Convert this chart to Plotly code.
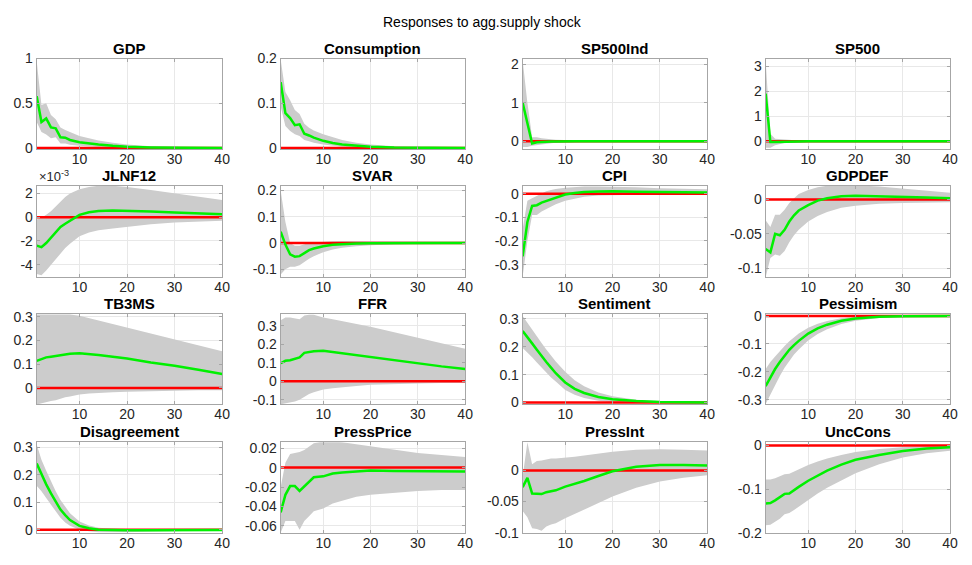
import plotly.graph_objects as go

# ---------------- data ----------------
H = [1, 2, 3, 4, 5, 6, 7, 8, 10, 12, 14, 17, 20, 25, 30, 35, 40]
X_TICKS = [10, 20, 30, 40]
X_TICK_LABELS = ["10", "20", "30", "40"]

names = ["GDP", "Consumption", "SP500Ind", "SP500",
         "JLNF12", "SVAR", "CPI", "GDPDEF",
         "TB3MS", "FFR", "Sentiment", "Pessimism",
         "Disagreement", "PressPrice", "PressInt", "UncCons"]

gdp_mean = [0.58, 0.29, 0.33, 0.23, 0.22, 0.12, 0.115, 0.09, 0.065, 0.05, 0.04, 0.025, 0.015, 0.007, 0.003, 0.001, 0.0]
gdp_hi = [0.97, 0.48, 0.50, 0.37, 0.32, 0.23, 0.20, 0.18, 0.135, 0.11, 0.085, 0.06, 0.04, 0.02, 0.01, 0.005, 0.003]
gdp_lo = [0.29, 0.18, 0.15, 0.11, 0.12, 0.05, 0.05, 0.035, 0.025, 0.015, 0.01, 0.005, 0.0, -0.003, -0.003, -0.002, -0.002]

cons_mean = [0.147, 0.078, 0.067, 0.051, 0.053, 0.032, 0.028, 0.023, 0.016, 0.011, 0.008, 0.005, 0.003, 0.001, 0.0005, 0.0, 0.0]
cons_hi = [0.198, 0.125, 0.107, 0.085, 0.076, 0.054, 0.045, 0.039, 0.031, 0.024, 0.018, 0.012, 0.008, 0.004, 0.002, 0.001, 0.0005]
cons_lo = [0.093, 0.049, 0.038, 0.031, 0.027, 0.018, 0.015, 0.012, 0.008, 0.005, 0.003, 0.001, 0.0, -0.001, -0.001, -0.0005, 0.0]

sp5i_mean = [1.0, 0.47, -0.06, -0.03, -0.02, -0.02, -0.01, -0.01, 0.0, 0.0, 0.0, 0.0, 0.0, 0.0, 0.0, 0.0, 0.0]
sp5i_hi = [2.1, 1.0, 0.1, 0.1, 0.08, 0.06, 0.05, 0.04, 0.03, 0.02, 0.01, 0.005, 0.003, 0.0, 0.0, 0.0, 0.0]
sp5i_lo = [-0.15, -0.15, -0.12, -0.1, -0.08, -0.06, -0.05, -0.04, -0.03, -0.02, -0.01, -0.005, -0.003, 0.0, 0.0, 0.0, 0.0]

sp5_mean = [1.9, -0.03, -0.03, -0.02, -0.02, -0.01, -0.01, -0.005, 0.0, 0.0, 0.0, 0.0, 0.0, 0.0, 0.0, 0.0, 0.0]
sp5_hi = [3.2, 0.3, 0.1, 0.08, 0.07, 0.05, 0.04, 0.03, 0.02, 0.01, 0.005, 0.0, 0.0, 0.0, 0.0, 0.0, 0.0]
sp5_lo = [-0.25, -0.25, -0.15, -0.1, -0.07, -0.05, -0.04, -0.03, -0.02, -0.01, -0.005, 0.0, 0.0, 0.0, 0.0, 0.0, 0.0]

jln_mean = [-2.40e-3, -2.53e-3, -2.18e-3, -1.72e-3, -1.23e-3, -0.82e-3, -0.55e-3, -0.30e-3, 0.20e-3, 0.42e-3, 0.52e-3, 0.57e-3, 0.55e-3, 0.48e-3, 0.40e-3, 0.32e-3, 0.25e-3]
jln_hi = [-0.20e-3, -0.05e-3, 0.20e-3, 0.50e-3, 0.90e-3, 1.30e-3, 1.70e-3, 2.00e-3, 2.35e-3, 2.55e-3, 2.65e-3, 2.65e-3, 2.55e-3, 2.30e-3, 2.00e-3, 1.70e-3, 1.45e-3]
jln_lo = [-4.80e-3, -4.90e-3, -4.50e-3, -4.00e-3, -3.50e-3, -3.00e-3, -2.60e-3, -2.25e-3, -1.60e-3, -1.30e-3, -1.10e-3, -0.95e-3, -0.80e-3, -0.60e-3, -0.45e-3, -0.35e-3, -0.30e-3]

svar_mean = [0.043, -0.006, -0.043, -0.052, -0.05, -0.037, -0.027, -0.021, -0.012, -0.007, -0.004, -0.002, -0.001, 0.0, 0.0, 0.0, 0.0]
svar_hi = [0.2, 0.08, 0.0, -0.01, -0.01, -0.005, 0.0, 0.002, 0.005, 0.007, 0.008, 0.008, 0.008, 0.007, 0.006, 0.005, 0.005]
svar_lo = [-0.12, -0.1, -0.09, -0.09, -0.085, -0.072, -0.06, -0.05, -0.035, -0.025, -0.018, -0.012, -0.008, -0.005, -0.003, -0.002, -0.002]

cpi_mean = [-0.265, -0.12, -0.052, -0.049, -0.038, -0.031, -0.024, -0.018, -0.004, 0.003, 0.007, 0.009, 0.01, 0.008, 0.007, 0.006, 0.005]
cpi_hi = [-0.15, -0.03, -0.02, -0.01, 0.0, 0.01, 0.015, 0.02, 0.025, 0.028, 0.03, 0.03, 0.03, 0.027, 0.023, 0.02, 0.018]
cpi_lo = [-0.35, -0.2, -0.09, -0.09, -0.075, -0.065, -0.055, -0.045, -0.03, -0.02, -0.013, -0.008, -0.006, -0.005, -0.005, -0.005, -0.006]

gdpdef_mean = [-0.072, -0.077, -0.05, -0.052, -0.044, -0.032, -0.023, -0.016, -0.008, -0.0015, 0.002, 0.0047, 0.0056, 0.005, 0.004, 0.003, 0.002]
gdpdef_hi = [-0.03, -0.04, -0.022, -0.022, -0.015, -0.005, 0.002, 0.008, 0.014, 0.018, 0.02, 0.021, 0.021, 0.019, 0.016, 0.013, 0.01]
gdpdef_lo = [-0.113, -0.085, -0.08, -0.082, -0.075, -0.062, -0.052, -0.044, -0.032, -0.024, -0.018, -0.012, -0.009, -0.006, -0.005, -0.004, -0.004]

tb3_mean = [0.114, 0.121, 0.129, 0.132, 0.135, 0.14, 0.142, 0.144, 0.146, 0.143, 0.139, 0.132, 0.124, 0.107, 0.094, 0.077, 0.059]
tb3_hi = [0.31, 0.31, 0.31, 0.31, 0.31, 0.31, 0.31, 0.31, 0.305, 0.295, 0.285, 0.27, 0.255, 0.23, 0.205, 0.18, 0.155]
tb3_lo = [-0.07, -0.065, -0.058, -0.055, -0.052, -0.045, -0.04, -0.036, -0.028, -0.024, -0.021, -0.018, -0.016, -0.013, -0.011, -0.01, -0.01]

ffr_mean = [0.097, 0.11, 0.113, 0.122, 0.129, 0.153, 0.158, 0.162, 0.165, 0.158, 0.151, 0.144, 0.132, 0.115, 0.097, 0.08, 0.066]
ffr_hi = [0.33, 0.345, 0.345, 0.34, 0.335, 0.355, 0.36, 0.36, 0.345, 0.335, 0.325, 0.31, 0.295, 0.265, 0.235, 0.205, 0.175]
ffr_lo = [-0.125, -0.12, -0.115, -0.11, -0.1, -0.085, -0.07, -0.06, -0.045, -0.038, -0.032, -0.026, -0.02, -0.015, -0.012, -0.01, -0.01]

sent_mean = [0.256, 0.236, 0.212, 0.189, 0.166, 0.145, 0.125, 0.105, 0.072, 0.049, 0.034, 0.02, 0.012, 0.005, 0.002, 0.001, 0.0]
sent_hi = [0.31, 0.285, 0.26, 0.237, 0.213, 0.19, 0.168, 0.147, 0.11, 0.08, 0.058, 0.036, 0.022, 0.01, 0.005, 0.003, 0.002]
sent_lo = [0.195, 0.18, 0.162, 0.143, 0.125, 0.107, 0.09, 0.075, 0.045, 0.028, 0.016, 0.006, 0.001, -0.002, -0.003, -0.002, -0.002]

pess_mean = [-0.251, -0.219, -0.19, -0.165, -0.142, -0.121, -0.104, -0.089, -0.063, -0.044, -0.031, -0.017, -0.009, -0.003, -0.001, 0.0, 0.0]
pess_hi = [-0.19, -0.165, -0.145, -0.125, -0.107, -0.09, -0.075, -0.063, -0.042, -0.028, -0.018, -0.008, -0.003, 0.0, 0.001, 0.001, 0.001]
pess_lo = [-0.315, -0.28, -0.245, -0.215, -0.185, -0.16, -0.138, -0.12, -0.088, -0.064, -0.047, -0.029, -0.017, -0.007, -0.003, -0.001, -0.001]

dis_mean = [0.241, 0.2, 0.165, 0.132, 0.1, 0.073, 0.053, 0.035, 0.014, 0.005, 0.0, -0.002, -0.002, -0.002, -0.001, -0.001, -0.001]
dis_hi = [0.31, 0.255, 0.215, 0.175, 0.14, 0.108, 0.082, 0.06, 0.03, 0.015, 0.007, 0.003, 0.002, 0.002, 0.002, 0.002, 0.002]
dis_lo = [0.16, 0.14, 0.115, 0.09, 0.065, 0.043, 0.026, 0.014, 0.0, -0.006, -0.009, -0.01, -0.009, -0.007, -0.005, -0.004, -0.004]

pp_mean = [-0.046, -0.028, -0.019, -0.019, -0.024, -0.019, -0.014, -0.01, -0.009, -0.006, -0.005, -0.004, -0.003, -0.0035, -0.0035, -0.004, -0.004]
pp_hi = [-0.02, 0.005, 0.014, 0.015, 0.016, 0.018, 0.022, 0.025, 0.027, 0.027, 0.026, 0.024, 0.022, 0.018, 0.015, 0.013, 0.011]
pp_lo = [-0.067, -0.055, -0.055, -0.055, -0.064, -0.055, -0.05, -0.045, -0.042, -0.037, -0.034, -0.03, -0.028, -0.026, -0.024, -0.023, -0.023]

pi_mean = [-0.027, -0.012, -0.037, -0.037, -0.038, -0.035, -0.033, -0.032, -0.026, -0.022, -0.017, -0.009, -0.0015, 0.006, 0.0087, 0.0087, 0.008]
pi_hi = [-0.01, 0.045, 0.01, 0.015, 0.016, 0.018, 0.019, 0.019, 0.02, 0.022, 0.024, 0.027, 0.03, 0.033, 0.034, 0.033, 0.032]
pi_lo = [-0.065, -0.075, -0.093, -0.094, -0.097, -0.09, -0.087, -0.085, -0.077, -0.07, -0.062, -0.052, -0.042, -0.028, -0.018, -0.012, -0.008]

unc_mean = [-0.133, -0.132, -0.126, -0.119, -0.111, -0.11, -0.102, -0.095, -0.081, -0.069, -0.058, -0.044, -0.033, -0.022, -0.013, -0.007, -0.004]
unc_hi = [-0.078, -0.078, -0.075, -0.07, -0.066, -0.065, -0.06, -0.055, -0.045, -0.037, -0.03, -0.022, -0.015, -0.008, -0.004, -0.002, -0.001]
unc_lo = [-0.183, -0.182, -0.175, -0.168, -0.158, -0.155, -0.148, -0.14, -0.125, -0.11, -0.097, -0.08, -0.064, -0.043, -0.028, -0.018, -0.012]

means = [gdp_mean, cons_mean, sp5i_mean, sp5_mean, jln_mean, svar_mean, cpi_mean, gdpdef_mean,
         tb3_mean, ffr_mean, sent_mean, pess_mean, dis_mean, pp_mean, pi_mean, unc_mean]
his = [gdp_hi, cons_hi, sp5i_hi, sp5_hi, jln_hi, svar_hi, cpi_hi, gdpdef_hi,
       tb3_hi, ffr_hi, sent_hi, pess_hi, dis_hi, pp_hi, pi_hi, unc_hi]
los = [gdp_lo, cons_lo, sp5i_lo, sp5_lo, jln_lo, svar_lo, cpi_lo, gdpdef_lo,
       tb3_lo, ffr_lo, sent_lo, pess_lo, dis_lo, pp_lo, pi_lo, unc_lo]

y_ranges = [[-0.01, 1.0], [-0.002, 0.2], [-0.2, 2.15], [-0.3, 3.3],
            [-5.06e-3, 2.65e-3], [-0.13, 0.218], [-0.353, 0.033], [-0.113, 0.02],
            [-0.07, 0.312], [-0.126, 0.363], [-0.007, 0.317], [-0.317, 0.007],
            [-0.011, 0.318], [-0.067, 0.026], [-0.1, 0.045], [-0.2, 0.007]]

y_tickvals = [[0, 0.5, 1], [0, 0.1, 0.2], [0, 1, 2], [0, 1, 2, 3],
              [-4e-3, -2e-3, 0, 2e-3], [-0.1, 0, 0.1, 0.2], [-0.3, -0.2, -0.1, 0], [-0.1, -0.05, 0],
              [0, 0.1, 0.2, 0.3], [-0.1, 0, 0.1, 0.2, 0.3], [0, 0.1, 0.2, 0.3], [-0.3, -0.2, -0.1, 0],
              [0, 0.1, 0.2, 0.3], [-0.06, -0.04, -0.02, 0, 0.02], [-0.1, -0.05, 0], [-0.2, -0.1, 0]]
y_ticktext = [["0", "0.5", "1"], ["0", "0.1", "0.2"], ["0", "1", "2"], ["0", "1", "2", "3"],
              ["-4", "-2", "0", "2"], ["-0.1", "0", "0.1", "0.2"], ["-0.3", "-0.2", "-0.1", "0"], ["-0.1", "-0.05", "0"],
              ["0", "0.1", "0.2", "0.3"], ["-0.1", "0", "0.1", "0.2", "0.3"], ["0", "0.1", "0.2", "0.3"], ["-0.3", "-0.2", "-0.1", "0"],
              ["0", "0.1", "0.2", "0.3"], ["-0.06", "-0.04", "-0.02", "0", "0.02"], ["-0.1", "-0.05", "0"], ["-0.2", "-0.1", "0"]]

main_title = "Responses to agg.supply shock"
exponent_label = "×10<sup>-3</sup>"

# ---------------- layout geometry (pixels) ----------------
W, HGT = 972, 565
col_px = [(37, 224), (283, 469), (527, 713), (772, 958)]
row_px = [(52, 145), (183, 277), (315, 408), (447, 540)]

FONT = "Liberation Sans, Arial, Helvetica, sans-serif"
TICK_COLOR = "#262626"
BOX_COLOR = "#a6a6a6"
GRID_COLOR = "#e8e8e8"
BAND_COLOR = "#cccccc"
GREEN = "#00f000"
RED = "#ff0000"

fig = go.Figure()
annotations = []
layout = {}

for i, name in enumerate(names):
    r, c = divmod(i, 4)
    k = i + 1
    xa = "x" if k == 1 else f"x{k}"
    ya = "y" if k == 1 else f"y{k}"
    x0, x1 = col_px[c]
    y0, y1 = row_px[r]

    # band: lower (invisible) then upper filled to lower
    fig.add_trace(go.Scatter(x=H, y=los[i], xaxis=xa, yaxis=ya, mode="lines",
                             line=dict(width=0, color=BAND_COLOR), showlegend=False,
                             hoverinfo="skip"))
    fig.add_trace(go.Scatter(x=H, y=his[i], xaxis=xa, yaxis=ya, mode="lines",
                             line=dict(width=0, color=BAND_COLOR), fill="tonexty",
                             fillcolor=BAND_COLOR, showlegend=False, hoverinfo="skip"))
    # zero line
    fig.add_trace(go.Scatter(x=[H[0], H[-1]], y=[0, 0], xaxis=xa, yaxis=ya, mode="lines",
                             line=dict(width=2.5, color=RED), showlegend=False))
    # median response
    fig.add_trace(go.Scatter(x=H, y=means[i], xaxis=xa, yaxis=ya, mode="lines",
                             line=dict(width=2.5, color=GREEN), showlegend=False))

    axis_common = dict(showline=True, linecolor=BOX_COLOR, linewidth=1, mirror="ticks",
                       showgrid=True, gridcolor=GRID_COLOR, gridwidth=1,
                       zeroline=False, ticks="inside", ticklen=3, tickcolor=BOX_COLOR,
                       tickfont=dict(family=FONT, size=14, color=TICK_COLOR))
    layout["xaxis" if k == 1 else f"xaxis{k}"] = dict(
        domain=[x0 / W, x1 / W], anchor=ya, range=[1, 40],
        tickvals=X_TICKS, ticktext=X_TICK_LABELS, ticklabelstandoff=-3, **axis_common)
    layout["yaxis" if k == 1 else f"yaxis{k}"] = dict(
        domain=[1 - y1 / HGT, 1 - y0 / HGT], anchor=xa, range=y_ranges[i],
        tickvals=y_tickvals[i], ticktext=y_ticktext[i], **axis_common)

    annotations.append(dict(text=f"<b>{name}</b>", x=(x0 + x1) / 2 / W, y=1 - y0 / HGT,
                            xref="paper", yref="paper", xanchor="center", yanchor="bottom",
                            yshift=0, showarrow=False,
                            font=dict(family=FONT, size=15, color="#000000")))

# exponent label for JLNF12
annotations.append(dict(text=exponent_label, x=col_px[0][0] / W, y=1 - row_px[1][0] / HGT,
                        xref="paper", yref="paper", xanchor="left", yanchor="bottom",
                        yshift=0, showarrow=False,
                        font=dict(family=FONT, size=13, color=TICK_COLOR)))
# main title
annotations.append(dict(text=main_title, x=0.5, y=1 - 14 / HGT, xref="paper", yref="paper",
                        xanchor="center", yanchor="middle", showarrow=False,
                        font=dict(family=FONT, size=14, color="#000000")))

fig.update_layout(**layout)
fig.update_layout(width=W, height=HGT, margin=dict(l=0, r=0, t=0, b=0),
                  paper_bgcolor="white", plot_bgcolor="white",
                  annotations=annotations, showlegend=False)

fig.write_html("out.html")
